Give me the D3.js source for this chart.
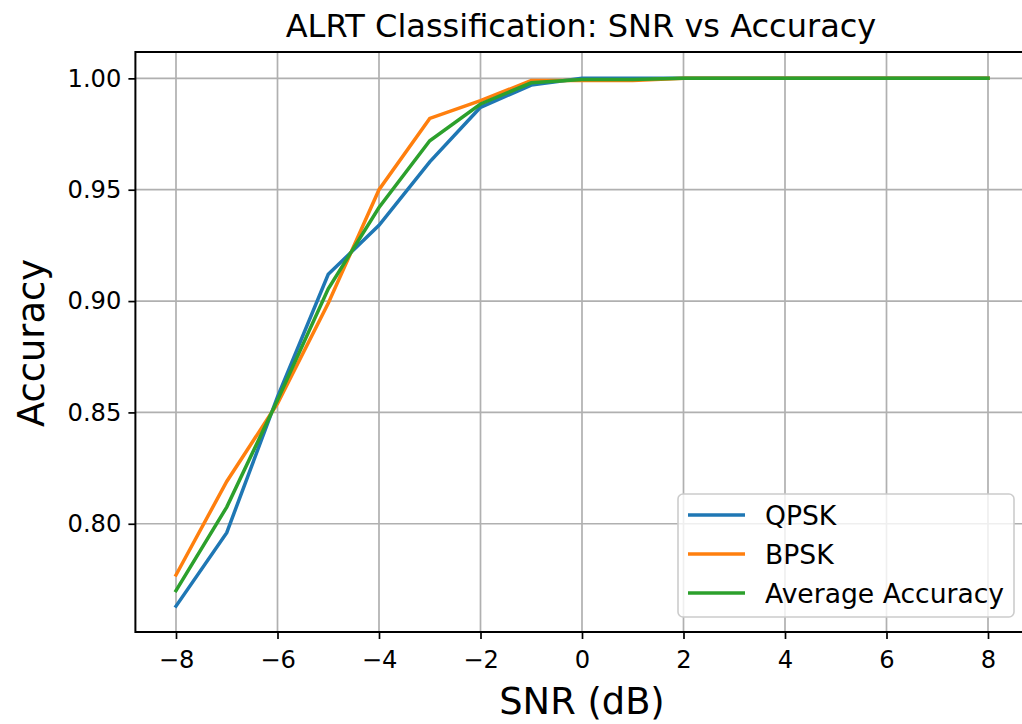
<!DOCTYPE html>
<html>
<head>
<meta charset="utf-8">
<script src="https://cdn.jsdelivr.net/npm/d3@7"></script>
<style>
  html, body { margin: 0; padding: 0; background: #fff; overflow: hidden; }
  svg { display: block; font-family: "DejaVu Sans", sans-serif; }
</style>
</head>
<body>
<svg id="chart" width="1022" height="724"></svg>
<script>
const snr = [-8, -7, -6, -5, -4, -3, -2, -1, 0, 1, 2, 3, 4, 5, 6, 7, 8];
const qpsk = [0.763, 0.796, 0.857, 0.912, 0.934, 0.9625, 0.987, 0.997, 1.0, 1.0, 1.0, 1.0, 1.0, 1.0, 1.0, 1.0, 1.0];
const bpsk = [0.777, 0.819, 0.854, 0.899, 0.950, 0.982, 0.990, 0.999, 0.999, 0.999, 1.0, 1.0, 1.0, 1.0, 1.0, 1.0, 1.0];
const avgAcc = [0.770, 0.8075, 0.8555, 0.9055, 0.942, 0.972, 0.9885, 0.998, 0.9995, 0.9995, 1.0, 1.0, 1.0, 1.0, 1.0, 1.0, 1.0];
const seriesNames = ["QPSK", "BPSK", "Average Accuracy"];
const seriesColors = ["#1f77b4", "#ff7f0e", "#2ca02c"];
const xTicks = [-8, -6, -4, -2, 0, 2, 4, 6, 8];
const yTicks = [0.80, 0.85, 0.90, 0.95, 1.00];
const titleText = "ALRT Classification: SNR vs Accuracy";
const xLabel = "SNR (dB)";
const yLabel = "Accuracy";

(function () {
const svg = d3.select("#chart");
const pL = 135.4, pR = 1028.6, pT = 52, pB = 632;

const x = d3.scaleLinear().domain([-8.8, 8.8]).range([pL, pR]);
const y = d3.scaleLinear().domain([0.7514, 1.01184]).range([pB, pT]);

const clipId = "plotclip";
svg.append("defs").append("clipPath").attr("id", clipId)
  .append("rect").attr("x", pL).attr("y", pT).attr("width", pR - pL).attr("height", pB - pT);

// grid
const grid = svg.append("g");
grid.selectAll("line.vx").data(xTicks).enter().append("line")
  .attr("x1", d => x(d)).attr("x2", d => x(d)).attr("y1", pT).attr("y2", pB)
  .attr("stroke", "#b0b0b0").attr("stroke-width", 1.7);
grid.selectAll("line.hy").data(yTicks).enter().append("line")
  .attr("x1", pL).attr("x2", pR).attr("y1", d => y(d)).attr("y2", d => y(d))
  .attr("stroke", "#b0b0b0").attr("stroke-width", 1.7);

// lines
const data = [qpsk, bpsk, avgAcc];
const line = d3.line().x((d, i) => x(snr[i])).y(d => y(d));
svg.append("g").attr("clip-path", `url(#${clipId})`)
  .selectAll("path").data(data).enter().append("path")
  .attr("d", d => line(d))
  .attr("fill", "none")
  .attr("stroke", (d, i) => seriesColors[i])
  .attr("stroke-width", 3.5)
  .attr("stroke-linejoin", "miter")
  .attr("stroke-linecap", "square");

// axes
const xAxis = d3.axisBottom(x).tickValues(xTicks).tickSize(7).tickPadding(12)
  .tickFormat(d => d < 0 ? "\u2212" + Math.abs(d) : String(d));
const gx = svg.append("g").attr("transform", `translate(0,${pB})`).call(xAxis);
const yAxis = d3.axisLeft(y).tickValues(yTicks).tickSize(7).tickPadding(7)
  .tickFormat(d3.format(".2f"));
const gy = svg.append("g").attr("transform", `translate(${pL},0)`).call(yAxis);
[gx, gy].forEach(g => {
  g.select(".domain").remove();
  g.selectAll(".tick line").attr("stroke", "#000").attr("stroke-width", 1.7);
  g.selectAll(".tick text").attr("fill", "#000").attr("font-size", 24.2)
    .attr("font-family", "DejaVu Sans");
});

// spines
svg.append("rect").attr("x", pL).attr("y", pT).attr("width", pR - pL).attr("height", pB - pT)
  .attr("fill", "none").attr("stroke", "#000").attr("stroke-width", 2);

// title & labels
svg.append("text").attr("x", (pL + pR) / 2 - 1).attr("y", 37).attr("text-anchor", "middle")
  .attr("font-size", 32).attr("fill", "#000").text(titleText);
svg.append("text").attr("x", (pL + pR) / 2).attr("y", 714).attr("text-anchor", "middle")
  .attr("font-size", 36.8).attr("fill", "#000").text(xLabel);
svg.append("text").attr("transform", `translate(44,${(pT + pB) / 2 + 1}) rotate(-90)`)
  .attr("text-anchor", "middle").attr("font-size", 36.8).attr("fill", "#000").text(yLabel);

// legend
const lg = svg.append("g");
lg.append("rect").attr("x", 678).attr("y", 494).attr("width", 336).attr("height", 123)
  .attr("rx", 5).attr("fill", "#fff").attr("fill-opacity", 0.8)
  .attr("stroke", "#cccccc").attr("stroke-width", 1.6);
seriesNames.forEach((name, i) => {
  const yy = 515 + i * 39;
  lg.append("line").attr("x1", 688).attr("x2", 745).attr("y1", yy).attr("y2", yy)
    .attr("stroke", seriesColors[i]).attr("stroke-width", 3.5);
  lg.append("text").attr("x", 765).attr("y", yy + 9.5).attr("font-size", 26.6)
    .attr("fill", "#000").text(name);
});
})();
</script>
</body>
</html>
